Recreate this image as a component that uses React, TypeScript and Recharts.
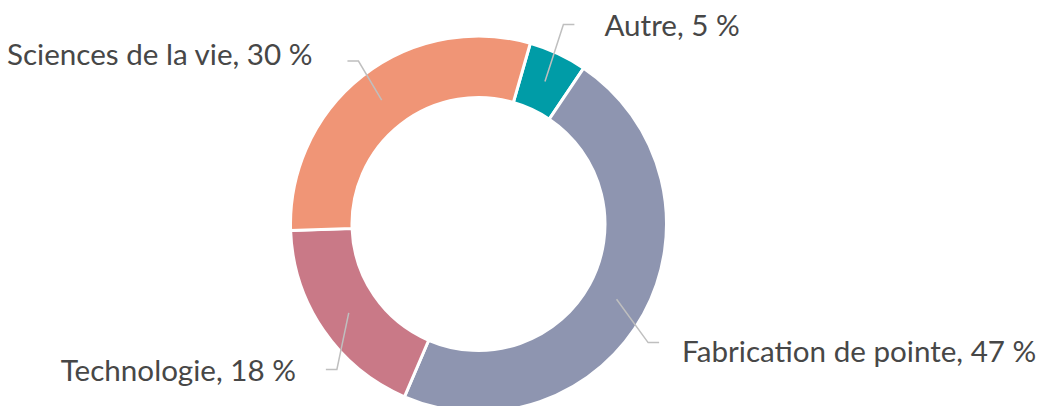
import { PieChart, Pie, Cell } from 'recharts';

const categories = ['Autre', 'Fabrication de pointe', 'Technologie', 'Sciences de la vie'];
const shares = [5, 47, 18, 30];
const colors = ['#009CA7', '#8E95B0', '#C97987', '#F09576'];

// label placement tweaks (elbow shift, text gap, text vertical shift)
const labelLayout = [
   { dx: -3, dy: -11, gap: 30, ty: 0 },
   { dx: -13, dy: 19, gap: 23, ty: 8 },
   { dx: 30, dy: 28, gap: 30, ty: 0 },
   { dx: 8, dy: 1, gap: 35, ty: -8 }
];

const data = categories.map((name, i) => ({ name, value: shares[i] }));

const RAD = Math.PI / 180;

function renderLabel(props: any) {
   const { cx, cy, midAngle, innerRadius, outerRadius, name, value, index } = props;
   const lay = labelLayout[index];
   const cos = Math.cos(-midAngle * RAD);
   const sin = Math.sin(-midAngle * RAD);
   const rMid = (innerRadius + outerRadius) / 2;
   const sx = cx + rMid * cos;
   const sy = cy + rMid * sin;
   const ex = cx + (outerRadius + 20) * cos + lay.dx;
   const ey = cy + (outerRadius + 20) * sin + lay.dy;
   const right = cos >= 0;
   const hx = ex + (right ? 11 : -11);
   const tx = hx + (right ? lay.gap : -lay.gap);
   return (
      <g>
         <polyline
            points={`${sx},${sy} ${ex},${ey} ${hx},${ey}`}
            fill='none'
            stroke='#BFBFBF'
            strokeWidth={1.5}
         />
         <text
            x={tx}
            y={ey + lay.ty}
            textAnchor={right ? 'start' : 'end'}
            dominantBaseline='central'
            fill='#474747'
            fontSize={29.6}
            fontFamily='Lato, sans-serif'
         >
            {`${name}, ${value} %`}
         </text>
      </g>
   );
}

export default function App() {
   return (
      <div style={{ position: 'absolute', left: 0, top: 0, background: '#fff' }}>
         <PieChart width={1042} height={406} margin={{ top: 0, right: 0, bottom: 0, left: 0 }}>
            <Pie
               data={data}
               dataKey='value'
               nameKey='name'
               cx={478.5}
               cy={224}
               innerRadius={126.5}
               outerRadius={188}
               startAngle={74}
               endAngle={-286}
               stroke='#fff'
               strokeWidth={3}
               label={renderLabel}
               labelLine={false}
               isAnimationActive={false}
            >
               {data.map((d, i) => (
                  <Cell key={d.name} fill={colors[i]} />
               ))}
            </Pie>
         </PieChart>
      </div>
   );
}
